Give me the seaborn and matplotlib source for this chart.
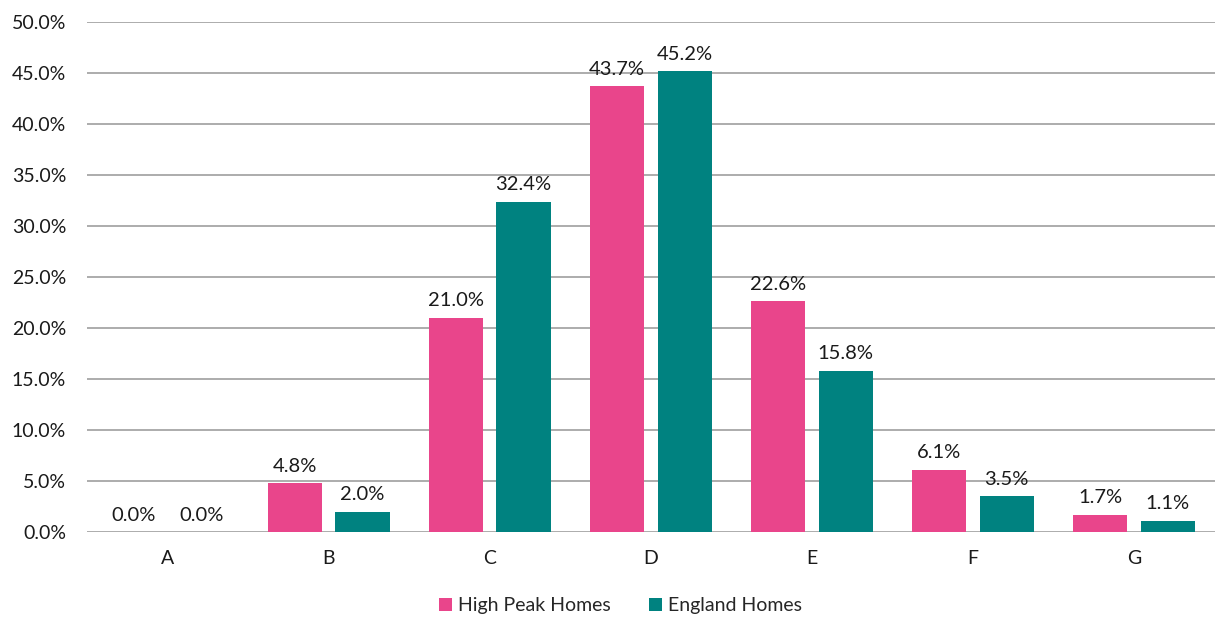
import pandas as pd
import matplotlib
matplotlib.use("Agg")
import matplotlib.pyplot as plt
import seaborn as sns
from matplotlib.ticker import PercentFormatter

# data
bands = ["A", "B", "C", "D", "E", "F", "G"]
high_peak = [0.0, 4.8, 21.0, 43.7, 22.6, 6.1, 1.7]
england = [0.0, 2.0, 32.4, 45.2, 15.8, 3.5, 1.1]
series_names = ["High Peak Homes", "England Homes"]
colors = ["#E9458B", "#008280"]

df = pd.DataFrame({
    "band": bands * 2,
    "share": high_peak + england,
    "series": [series_names[0]] * len(bands) + [series_names[1]] * len(bands),
})

sns.set_theme(style="white")
plt.rcParams["font.family"] = ["Lato", "DejaVu Sans"]

fig = plt.figure(figsize=(12.17, 6.17), dpi=100)
ax = fig.add_axes([0.0715, 0.1378, 0.9265, 0.8265])

sns.barplot(
    data=df, x="band", y="share", hue="series",
    palette=colors, width=0.84, gap=0.2, ax=ax,
    saturation=1, legend=True, linewidth=0,
)

for cont in ax.containers:
    ax.bar_label(cont, fmt="%.1f%%", padding=6, fontsize=14.5, color="#1a1a1a")

ax.set_ylim(0, 50)
ax.set_xlim(-0.5, 6.5)
ax.set_yticks(range(0, 51, 5))
ax.yaxis.set_major_formatter(PercentFormatter(decimals=1))
ax.grid(axis="y", color="#a6a6a6", linewidth=1.3)
ax.set_axisbelow(True)
for s in ax.spines.values():
    s.set_visible(False)
ax.tick_params(axis="y", length=0, pad=15, labelsize=14, labelcolor="#1a1a1a")
ax.tick_params(axis="x", length=0, pad=13, labelsize=14, labelcolor="#1a1a1a")
ax.set_xlabel("")
ax.set_ylabel("")

ax.legend(
    loc="center", bbox_to_anchor=(0.473, -0.145), ncol=2, frameon=False,
    fontsize=14, handlelength=0.65, handleheight=0.65, handletextpad=0.3,
    columnspacing=2.0, borderpad=0,
)

fig.savefig("out.png", dpi=100)
